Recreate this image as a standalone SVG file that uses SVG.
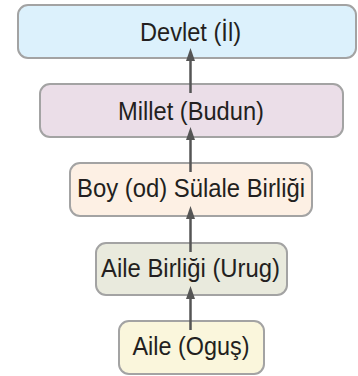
<svg xmlns="http://www.w3.org/2000/svg" width="358" height="376" viewBox="0 0 358 376">
<defs>
<style>
.box{stroke:#a3a3a3;stroke-width:2}
.lbl{font-family:"Liberation Sans",Arial,sans-serif;font-size:25px;fill:#231f20;text-anchor:middle}
.con{stroke:#555;stroke-width:2.5;fill:none}
.head{fill:#555}
</style>
</defs>
<g id="n1"><rect class="box" x="18" y="5" width="338" height="53" rx="10" fill="#dcf1fc"/><text class="lbl" x="190.5" y="41" textLength="101" lengthAdjust="spacingAndGlyphs">Devlet (İl)</text></g>
<g id="n2"><rect class="box" x="40" y="84" width="303" height="53" rx="10" fill="#ebdee8"/><text class="lbl" x="191" y="120" textLength="146" lengthAdjust="spacingAndGlyphs">Millet (Budun)</text></g>
<g id="n3"><rect class="box" x="70" y="163" width="242" height="53" rx="10" fill="#fdf0e4"/><text class="lbl" x="191" y="197" textLength="228" lengthAdjust="spacingAndGlyphs">Boy (od) Sülale Birliği</text></g>
<g id="n4"><rect class="box" x="96" y="243" width="191" height="52" rx="10" fill="#e9eadd"/><text class="lbl" x="190.5" y="277" textLength="179" lengthAdjust="spacingAndGlyphs">Aile Birliği (Urug)</text></g>
<g id="n5"><rect class="box" x="119" y="321" width="145" height="53" rx="10" fill="#faf6dc"/><text class="lbl" x="191" y="355" textLength="117" lengthAdjust="spacingAndGlyphs">Aile (Oguş)</text></g>
<g id="connectors">
<line class="con" x1="190.5" y1="93" x2="190.5" y2="60"/><path class="head" d="M190.5 48 L195 61 L186 61 Z"/>
<line class="con" x1="190.5" y1="172" x2="190.5" y2="139"/><path class="head" d="M190.5 127 L195 140 L186 140 Z"/>
<line class="con" x1="190.5" y1="252" x2="190.5" y2="218"/><path class="head" d="M190.5 206 L195 219 L186 219 Z"/>
<line class="con" x1="190.5" y1="330" x2="190.5" y2="298"/><path class="head" d="M190.5 286 L195 299 L186 299 Z"/>
</g>
</svg>
